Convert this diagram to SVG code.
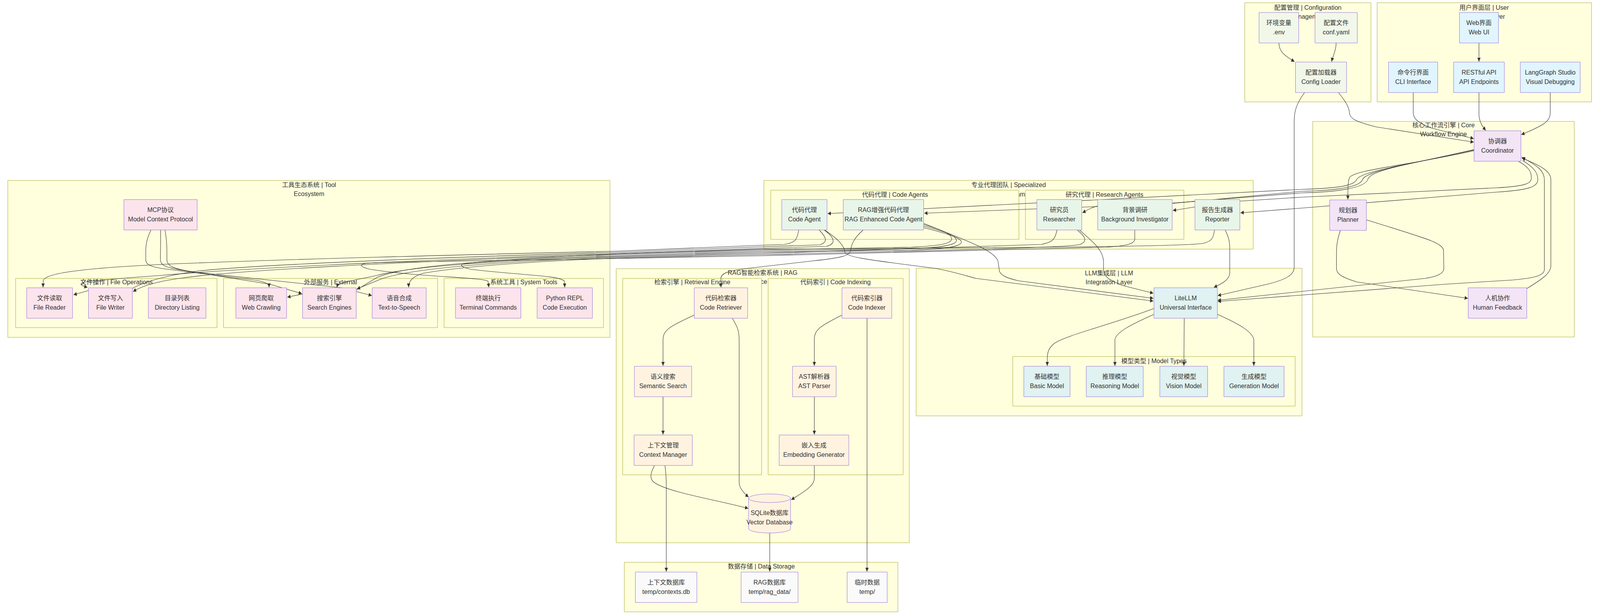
<svg xmlns="http://www.w3.org/2000/svg" width="4918" height="1575" viewBox="0 0 4918 1575" preserveAspectRatio="none">
<style>
svg:root{width:100vw;height:100vh;display:block}
.c{fill:#ffffde;stroke:#aaaa33;stroke-width:1;vector-effect:non-scaling-stroke}
.t{font-family:"Liberation Sans","Noto Sans CJK SC",sans-serif;font-size:16px;fill:#333;text-anchor:middle;dominant-baseline:central}
.n{stroke:#9370DB;stroke-width:1;vector-effect:non-scaling-stroke}
.e path{fill:none;stroke:#333;stroke-width:1.1;marker-end:url(#a);vector-effect:non-scaling-stroke}
.cfg{fill:#f1f8e9}.ui{fill:#e1f5fe}.core{fill:#f3e5f5}.agt{fill:#e8f5e9}.tool{fill:#fce4ec}.rag{fill:#fff3e0}.llm{fill:#e0f2f1}.st{fill:#fafafa}
@media (max-width:4800px){.t{transform-box:fill-box;transform-origin:center;transform:scaleX(1.2007)}}
</style>
<defs>
<marker id="a" viewBox="0 0 10 10" refX="10" refY="5" markerUnits="userSpaceOnUse" markerWidth="10" markerHeight="10" orient="auto"><path d="M0,0 L10,5 L0,10 z" fill="#333"/></marker>
<marker id="as" viewBox="0 0 10 10" refX="10" refY="5" markerUnits="userSpaceOnUse" markerWidth="10" markerHeight="10" orient="auto-start-reverse"><path d="M0,0 L10,5 L0,10 z" fill="#333"/></marker>
</defs>
<rect width="4918" height="1575" fill="#ffffff"/>
<g id="clusters">
<g id="cl-config"><rect class="c" x="3826" y="7" width="388" height="254"/><text class="t" x="4020" y="20">配置管理 | Configuration</text><text class="t" x="4020" y="43">Management</text></g>
<g id="cl-ui"><rect class="c" x="4233" y="7" width="659" height="254"/><text class="t" x="4562" y="20">用户界面层 | User</text><text class="t" x="4562" y="43">Interface Layer</text></g>
<g id="cl-core"><rect class="c" x="4035" y="311" width="804" height="552"/><text class="t" x="4437" y="321">核心工作流引擎 | Core</text><text class="t" x="4437" y="344">Workflow Engine</text></g>
<g id="cl-agents"><rect class="c" x="2348" y="462" width="1504" height="176"/><text class="t" x="3100" y="474">专业代理团队 | Specialized</text><text class="t" x="3100" y="498">Agent Team</text>
<rect class="c" x="2369" y="487" width="763" height="126"/><text class="t" x="2751" y="499">代码代理 | Code Agents</text>
<rect class="c" x="3152" y="487" width="487" height="126"/><text class="t" x="3395" y="499">研究代理 | Research Agents</text></g>
<g id="cl-tools"><rect class="c" x="24" y="462" width="1851" height="402"/><text class="t" x="950" y="474">工具生态系统 | Tool</text><text class="t" x="950" y="497">Ecosystem</text>
<rect class="c" x="48" y="713" width="619" height="126"/><text class="t" x="358" y="723">文件操作 | File Operations</text>
<rect class="c" x="687" y="713" width="658" height="126"/><text class="t" x="1016" y="723">外部服务 | External</text><text class="t" x="1016" y="746">Services</text>
<rect class="c" x="1365" y="713" width="490" height="126"/><text class="t" x="1610" y="723">系统工具 | System Tools</text></g>
<g id="cl-rag"><rect class="c" x="1894" y="688" width="901" height="702"/><text class="t" x="2344" y="699">RAG智能检索系统 | RAG</text><text class="t" x="2344" y="722">Intelligence System</text>
<rect class="c" x="1914" y="713" width="427" height="503"/><text class="t" x="2128" y="723">检索引擎 | Retrieval Engine</text>
<rect class="c" x="2361" y="713" width="415" height="503"/><text class="t" x="2568" y="723">代码索引 | Code Indexing</text></g>
<g id="cl-llm"><rect class="c" x="2816" y="687" width="1186" height="378"/><text class="t" x="3409" y="700">LLM集成层 | LLM</text><text class="t" x="3409" y="723">Integration Layer</text>
<rect class="c" x="3113" y="913" width="868" height="127"/><text class="t" x="3547" y="925">模型类型 | Model Types</text></g>
<g id="cl-data"><rect class="c" x="1919" y="1440" width="841" height="127"/><text class="t" x="2340" y="1451">数据存储 | Data Storage</text></g>
</g>
<g id="connectors" class="e">
<path d="M3931,110 C3931,135 3955,145 3979,158"/>
<path d="M4107,110 C4107,130 4097,143 4093,158"/>
<path d="M4114,237 C4138,262 4147,275 4148,290 C4150,305 4170,312 4230,325 L4530,364"/>
<path d="M4344,237 L4344,290 C4345,305 4360,315 4400,328 L4530,355"/>
<path d="M4546,110 L4546,158"/>
<path d="M4546,237 L4546,295 C4548,315 4558,325 4567,334"/>
<path d="M4765,237 L4765,290 C4765,315 4730,325 4676,345"/>
<path d="M4010,237 C3985,265 3978,285 3978,310 L3978,685 C3978,705 3950,716 3900,727 L3743,757"/>
<path d="M4531,386 C4320,425 4160,435 4148,455 C4143,465 4143,480 4143,511"/>
<path d="M4120,590 C4110,615 4108,628 4108,650 L4108,688 C4108,702 4125,710 4170,722 L4512,764"/>
<path d="M4200,563 C4380,610 4430,620 4437,640 L4438,688 C4438,700 4420,708 4380,713 L3743,769"/>
<path d="M4677,403 C4730,425 4747,440 4747,460 L4747,690 C4747,705 4720,712 4650,717 L4440,728 L3743,772" marker-start="url(#as)"/>
<path d="M4693,739 C4740,715 4767,700 4767,680 L4767,460 C4767,440 4740,425 4678,405"/>
<path d="M4531,384 C4330,422 4182,438 4170,460 C4160,478 4100,482 4000,485 L2544,547"/>
<path d="M4531,384 C4340,420 4200,436 4188,460 C4180,480 4100,488 4000,490 L3603,521 L3374,529 L3182,535 L2841,546"/>
<path d="M4531,383 C4350,418 4215,434 4205,458 C4198,483 4100,492 4000,494 L3605,520 L3376,527 C3350,532 3338,540 3327,545"/>
<path d="M4667,413 C4700,428 4707,440 4707,455 C4707,470 4690,477 4600,481 L4000,505 L3813,515 L3673,530 L3605,539"/>
<path d="M4680,411 C4718,430 4727,445 4727,460 C4727,478 4700,487 4600,492 L4000,533 L3813,545"/>
<path d="M2535,589 C2575,612 2595,628 2597,646 C2600,660 2700,668 2880,688 C2930,696 2960,704 3000,713 L3545,771"/>
<path d="M2839,572 C2950,610 3060,640 3068,670 L3072,695 C3080,708 3100,713 3130,719 L3545,764"/>
<path d="M3318,589 C3360,620 3391,640 3392,670 L3392,695 C3395,712 3420,720 3450,731 L3545,751"/>
<path d="M3766,589 C3778,610 3780,620 3780,640 L3780,700 C3778,718 3752,728 3731,736"/>
<path d="M2653,589 C2625,610 2617,625 2615,640 C2612,655 2590,660 2500,668 L2300,687 C2235,694 2217,700 2216,712 L2216,736"/>
<path d="M2134,807 C2060,835 2038,845 2038,870 L2038,937"/>
<path d="M2251,815 C2265,835 2272,845 2272,870 L2272,1235 C2272,1250 2285,1262 2301,1273"/>
<path d="M2038,1016 L2038,1113"/>
<path d="M2012,1192 C2000,1210 1995,1225 2010,1235 C2050,1260 2200,1280 2300,1302"/>
<path d="M2044,1192 C2047,1210 2048,1220 2048,1240 L2048,1464"/>
<path d="M2588,807 C2520,835 2503,845 2503,870 L2503,937"/>
<path d="M2503,1016 L2503,1113"/>
<path d="M2503,1192 L2503,1225 C2503,1245 2470,1260 2432,1280"/>
<path d="M2665,815 L2665,1464"/>
<path d="M2366,1365 L2366,1464"/>
<path d="M3547,790 C3420,830 3270,860 3240,880 C3225,890 3219,900 3219,920 L3219,937"/>
<path d="M3547,805 C3480,830 3430,850 3427,870 L3427,937"/>
<path d="M3640,815 L3639,937"/>
<path d="M3742,805 C3810,830 3850,850 3854,870 L3854,937"/>
<path d="M464,589 C452,610 448,625 448,645 L448,665 C448,680 470,685 520,690 L790,718 C822,724 827,728 827,736"/>
<path d="M494,589 L493,665 C493,680 510,685 560,692 L830,728 L928,752"/>
<path d="M507,589 C512,610 513,625 513,645 L513,665 C513,683 540,690 600,697 L1050,737 L1143,757"/>
<path d="M2455,589 C2450,612 2447,622 2410,626 L2340,628 L1900,643 C1400,653 900,663 500,677 C250,687 140,700 133,718 L132,736"/>
<path d="M2518,589 C2540,608 2546,620 2520,627 L2340,632 L1900,646 C1300,660 750,680 600,695 C480,710 430,728 408,738 L272,744 L226,755"/>
<path d="M2533,589 C2565,608 2572,624 2540,631 L2340,636 L1900,649 C1200,668 700,690 500,705 C350,714 290,718 262,722 C240,725 250,732 269,736"/>
<path d="M2839,575 C2900,590 2925,600 2925,612 C2925,625 2880,630 2800,633 L2340,640 L1900,652 C1200,670 700,695 560,712 C470,722 430,735 409,747"/>
<path d="M2839,579 C2910,594 2940,605 2940,616 C2940,628 2890,634 2800,637 L2340,643 L1900,655 C1500,665 1250,680 1160,710 L1097,742 L930,753 L883,761"/>
<path d="M2839,583 C2920,600 2955,610 2955,620 C2955,632 2900,638 2800,641 L2340,646 L1900,657 C1500,667 1250,685 1160,705 C1080,720 1040,722 1035,736"/>
<path d="M3249,589 C3243,610 3240,620 3200,626 L2340,649 L1900,659 C1500,670 1250,690 1170,715 L1097,740"/>
<path d="M3311,589 C3335,605 3345,618 3320,626 C3290,633 3000,640 2340,652 L1900,661 C1600,670 1400,685 1300,700 C1270,708 1256,718 1256,736"/>
<path d="M3488,589 L3488,612 C3488,625 3460,630 3400,633 L2340,655 L1900,662 C1500,668 1200,670 1130,674 C1100,677 1105,683 1140,690 C1300,710 1480,710 1500,720 L1503,736"/>
<path d="M3733,589 C3730,605 3729,617 3700,623 C3650,630 3400,633 2340,638 L1900,650 C1600,662 1470,670 1430,675 C1410,678 1415,684 1450,690 C1600,705 1720,705 1735,720 L1736,736"/>
</g>
<g id="n-env"><rect class="n cfg" x="3870" y="32" width="122" height="78"/><text class="t" x="3931" y="59">环境变量</text><text class="t" x="3931" y="83">.env</text></g>
<g id="n-conf"><rect class="n cfg" x="4042" y="32" width="130" height="78"/><text class="t" x="4107" y="59">配置文件</text><text class="t" x="4107" y="83">conf.yaml</text></g>
<g id="n-cl"><rect class="n cfg" x="3982" y="159" width="157" height="78"/><text class="t" x="4060.5" y="186">配置加载器</text><text class="t" x="4060.5" y="210">Config Loader</text></g>
<g id="n-web"><rect class="n ui" x="4486" y="32" width="120" height="78"/><text class="t" x="4546" y="59">Web界面</text><text class="t" x="4546" y="83">Web UI</text></g>
<g id="n-cli"><rect class="n ui" x="4268" y="159" width="151" height="78"/><text class="t" x="4343.5" y="186">命令行界面</text><text class="t" x="4343.5" y="210">CLI Interface</text></g>
<g id="n-api"><rect class="n ui" x="4468" y="159" width="156" height="78"/><text class="t" x="4546" y="186">RESTful API</text><text class="t" x="4546" y="210">API Endpoints</text></g>
<g id="n-lgs"><rect class="n ui" x="4673" y="159" width="184" height="78"/><text class="t" x="4765" y="186">LangGraph Studio</text><text class="t" x="4765" y="210">Visual Debugging</text></g>
<g id="n-coord"><rect class="n core" x="4531" y="335" width="144" height="78"/><text class="t" x="4603" y="362">协调器</text><text class="t" x="4603" y="386">Coordinator</text></g>
<g id="n-plan"><rect class="n core" x="4087" y="512" width="113" height="78"/><text class="t" x="4143.5" y="539">规划器</text><text class="t" x="4143.5" y="563">Planner</text></g>
<g id="n-hf"><rect class="n core" x="4513" y="737" width="180" height="78"/><text class="t" x="4603" y="764">人机协作</text><text class="t" x="4603" y="788">Human Feedback</text></g>
<g id="n-ca"><rect class="n agt" x="2403" y="511" width="139" height="78"/><text class="t" x="2472.5" y="538">代码代理</text><text class="t" x="2472.5" y="562">Code Agent</text></g>
<g id="n-rca"><rect class="n agt" x="2592" y="511" width="247" height="78"/><text class="t" x="2715.5" y="538">RAG增强代码代理</text><text class="t" x="2715.5" y="562">RAG Enhanced Code Agent</text></g>
<g id="n-res"><rect class="n agt" x="3187" y="511" width="138" height="78"/><text class="t" x="3256" y="538">研究员</text><text class="t" x="3256" y="562">Researcher</text></g>
<g id="n-bi"><rect class="n agt" x="3374" y="511" width="229" height="78"/><text class="t" x="3488.5" y="538">背景调研</text><text class="t" x="3488.5" y="562">Background Investigator</text></g>
<g id="n-rep"><rect class="n agt" x="3673" y="511" width="138" height="78"/><text class="t" x="3742" y="538">报告生成器</text><text class="t" x="3742" y="562">Reporter</text></g>
<g id="n-mcp"><rect class="n tool" x="381" y="511" width="225" height="78"/><text class="t" x="493.5" y="538">MCP协议</text><text class="t" x="493.5" y="562">Model Context Protocol</text></g>
<g id="n-fr"><rect class="n tool" x="82" y="737" width="141" height="78"/><text class="t" x="152.5" y="764">文件读取</text><text class="t" x="152.5" y="788">File Reader</text></g>
<g id="n-fw"><rect class="n tool" x="272" y="737" width="135" height="78"/><text class="t" x="339.5" y="764">文件写入</text><text class="t" x="339.5" y="788">File Writer</text></g>
<g id="n-dl"><rect class="n tool" x="456" y="737" width="177" height="78"/><text class="t" x="544.5" y="764">目录列表</text><text class="t" x="544.5" y="788">Directory Listing</text></g>
<g id="n-wc"><rect class="n tool" x="725" y="737" width="156" height="78"/><text class="t" x="803" y="764">网页爬取</text><text class="t" x="803" y="788">Web Crawling</text></g>
<g id="n-se"><rect class="n tool" x="930" y="737" width="165" height="78"/><text class="t" x="1012.5" y="764">搜索引擎</text><text class="t" x="1012.5" y="788">Search Engines</text></g>
<g id="n-tts"><rect class="n tool" x="1144" y="737" width="166" height="78"/><text class="t" x="1227" y="764">语音合成</text><text class="t" x="1227" y="788">Text-to-Speech</text></g>
<g id="n-tc"><rect class="n tool" x="1400" y="737" width="201" height="78"/><text class="t" x="1500.5" y="764">终端执行</text><text class="t" x="1500.5" y="788">Terminal Commands</text></g>
<g id="n-pr"><rect class="n tool" x="1651" y="737" width="170" height="78"/><text class="t" x="1736" y="764">Python REPL</text><text class="t" x="1736" y="788">Code Execution</text></g>
<g id="n-cr"><rect class="n rag" x="2134" y="737" width="164" height="78"/><text class="t" x="2216" y="764">代码检索器</text><text class="t" x="2216" y="788">Code Retriever</text></g>
<g id="n-ss"><rect class="n rag" x="1950" y="938" width="176" height="78"/><text class="t" x="2038" y="965">语义搜索</text><text class="t" x="2038" y="989">Semantic Search</text></g>
<g id="n-cm"><rect class="n rag" x="1949" y="1114" width="179" height="78"/><text class="t" x="2038.5" y="1141">上下文管理</text><text class="t" x="2038.5" y="1165">Context Manager</text></g>
<g id="n-ci"><rect class="n rag" x="2588" y="737" width="153" height="78"/><text class="t" x="2664.5" y="764">代码索引器</text><text class="t" x="2664.5" y="788">Code Indexer</text></g>
<g id="n-ast"><rect class="n rag" x="2436" y="938" width="134" height="78"/><text class="t" x="2503" y="965">AST解析器</text><text class="t" x="2503" y="989">AST Parser</text></g>
<g id="n-eg"><rect class="n rag" x="2395" y="1114" width="214" height="78"/><text class="t" x="2502" y="1141">嵌入生成</text><text class="t" x="2502" y="1165">Embedding Generator</text></g>
<g id="n-vdb"><path class="n rag" d="M2301,1276 a64.5,11 0 0,0 129,0 a64.5,11 0 0,0 -129,0 l0,78 a64.5,11 0 0,0 129,0 l0,-78"/><text class="t" x="2365.5" y="1314">SQLite数据库</text><text class="t" x="2365.5" y="1338">Vector Database</text></g>
<g id="n-litellm"><rect class="n llm" x="3547" y="737" width="195" height="78"/><text class="t" x="3644.5" y="764">LiteLLM</text><text class="t" x="3644.5" y="788">Universal Interface</text></g>
<g id="n-bm"><rect class="n llm" x="3147" y="938" width="142" height="78"/><text class="t" x="3218" y="965">基础模型</text><text class="t" x="3218" y="989">Basic Model</text></g>
<g id="n-rm"><rect class="n llm" x="3339" y="938" width="175" height="78"/><text class="t" x="3426.5" y="965">推理模型</text><text class="t" x="3426.5" y="989">Reasoning Model</text></g>
<g id="n-vm"><rect class="n llm" x="3565" y="938" width="147" height="78"/><text class="t" x="3638.5" y="965">视觉模型</text><text class="t" x="3638.5" y="989">Vision Model</text></g>
<g id="n-gm"><rect class="n llm" x="3762" y="938" width="185" height="78"/><text class="t" x="3854.5" y="965">生成模型</text><text class="t" x="3854.5" y="989">Generation Model</text></g>
<g id="n-cdb"><rect class="n st" x="1953" y="1465" width="189" height="78"/><text class="t" x="2047.5" y="1492">上下文数据库</text><text class="t" x="2047.5" y="1516">temp/contexts.db</text></g>
<g id="n-rdb"><rect class="n st" x="2278" y="1465" width="175" height="78"/><text class="t" x="2365.5" y="1492">RAG数据库</text><text class="t" x="2365.5" y="1516">temp/rag_data/</text></g>
<g id="n-tmp"><rect class="n st" x="2604" y="1465" width="123" height="78"/><text class="t" x="2665.5" y="1492">临时数据</text><text class="t" x="2665.5" y="1516">temp/</text></g>
</svg>
